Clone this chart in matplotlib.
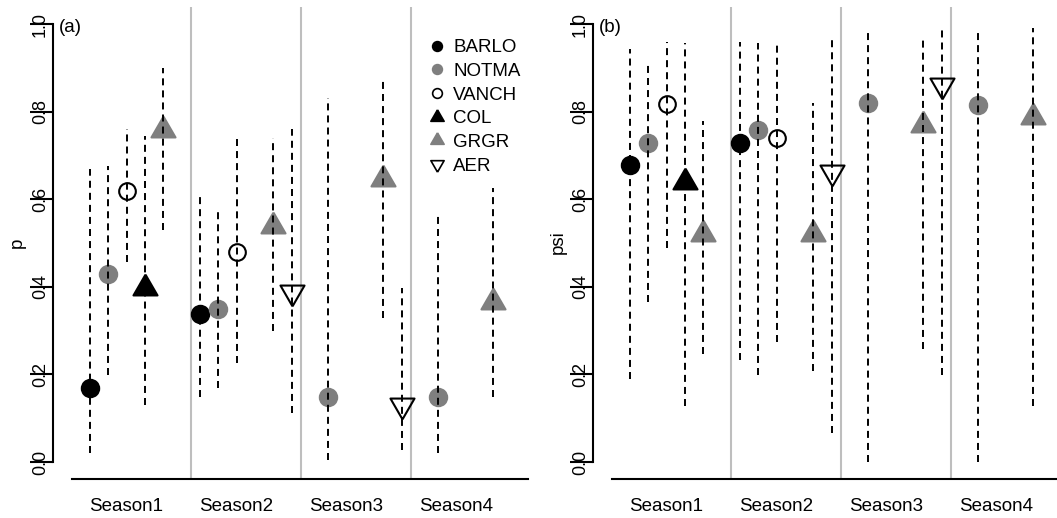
import matplotlib.pyplot as plt
import numpy as np
from matplotlib.lines import Line2D

plt.rcParams['font.family'] = ['Liberation Sans', 'DejaVu Sans']
plt.rcParams['ytick.major.size'] = 16.5
plt.rcParams['ytick.major.width'] = 1.5
plt.rcParams['ytick.direction'] = 'out'

nan = np.nan

seasons = ['Season1', 'Season2', 'Season3', 'Season4']
species = ['BARLO', 'NOTMA', 'VANCH', 'COL', 'GRGR', 'AER']

# detection probability p: estimate and interval per species (rows) and season (cols)
p_est = [[0.170, 0.339, nan, nan],
         [0.429, 0.349, 0.149, 0.149],
         [0.619, 0.479, nan, nan],
         [0.397, nan, nan, nan],
         [0.758, 0.538, 0.647, 0.365],
         [nan, 0.389, 0.130, nan]]
p_lo = [[0.020, 0.149, nan, nan],
        [0.199, 0.168, 0.005, 0.021],
        [0.457, 0.225, nan, nan],
        [0.129, nan, nan, nan],
        [0.530, 0.298, 0.328, 0.148],
        [nan, 0.111, 0.027, nan]]
p_hi = [[0.669, 0.610, nan, nan],
        [0.676, 0.575, 0.830, 0.568],
        [0.760, 0.739, nan, nan],
        [0.744, nan, nan, nan],
        [0.899, 0.739, 0.874, 0.625],
        [nan, 0.760, 0.398, nan]]

# occupancy psi
psi_est = [[0.678, 0.729, nan, nan],
           [0.729, 0.759, 0.819, 0.815],
           [0.817, 0.739, nan, nan],
           [0.639, nan, nan, nan],
           [0.520, 0.520, 0.769, 0.787],
           [nan, 0.662, 0.860, nan]]
psi_lo = [[0.189, 0.234, nan, nan],
          [0.366, 0.199, 0.000, 0.000],
          [0.488, 0.275, nan, nan],
          [0.128, nan, nan, nan],
          [0.247, 0.208, 0.257, 0.128],
          [nan, 0.067, 0.199, nan]]
psi_hi = [[0.944, 0.960, nan, nan],
          [0.914, 0.956, 0.988, 0.990],
          [0.960, 0.960, nan, nan],
          [0.956, nan, nan, nan],
          [0.779, 0.819, 0.970, 0.990],
          [nan, 0.965, 0.990, nan]]

yticks = [0.0, 0.2, 0.4, 0.6, 0.8, 1.0]

# equilateral triangles centred on their centroid (like R's pch 17 / pch 6)
tri_up = [(0, 1), (-0.866, -0.5), (0.866, -0.5), (0, 1)]
tri_down = [(0, -1), (-0.866, 0.5), (0.866, 0.5), (0, -1)]

grey = '#7F7F7F'
# marker, face colour, edge colour, size
styles = [('o', 'black', 'black', 12.5),
          ('o', grey, grey, 12.5),
          ('o', 'none', 'black', 12.0),
          (tri_up, 'black', 'black', 20),
          (tri_up, grey, grey, 20),
          (tri_down, 'none', 'black', 20)]

W, H = 1057, 518
fig = plt.figure(figsize=(W / 100, H / 100), dpi=100)


def add_panel(x0, x1, origin):
    # axes placed in pixels; one season = 110 px wide starting at `origin`
    ax = fig.add_axes([x0 / W, 1 - 479 / H, (x1 - x0) / W, (479 - 7) / H])
    ax.set_xlim((x0 - origin) / 110, (x1 - origin) / 110)
    ax.set_ylim((462 - 479) / 438, (462 - 7) / 438)
    return ax


def draw_panel(ax, est, lo, hi, tag):
    for s in range(1, len(seasons)):
        ax.axvline(s, color='#BEBEBE', lw=1.5, zorder=1)
    for i in range(len(species)):
        mk, fc, ec, ms = styles[i]
        for s in range(len(seasons)):
            if np.isnan(est[i][s]):
                continue
            x = s + (i + 0.5) / 6
            ax.plot(x, est[i][s], marker=mk, ms=ms, mfc=fc, mec=ec,
                    mew=1.5, ls='none', zorder=2)
            ax.plot([x, x], [lo[i][s], hi[i][s]], color='black', lw=1.4,
                    ls=(0, (3.6, 2.6)), zorder=3)

    for side in ['top', 'right']:
        ax.spines[side].set_visible(False)
    ax.spines['left'].set_bounds(0, 1)
    ax.spines['bottom'].set_bounds(-0.079, 4.066)
    ax.spines['left'].set_linewidth(1.5)
    ax.spines['bottom'].set_linewidth(1.5)

    ax.set_yticks(yticks)
    ax.set_yticklabels(['%.1f' % t for t in yticks], rotation=90,
                       va='center', fontsize=13)
    ax.yaxis.set_tick_params(pad=-13.5)
    ax.set_xticks([s + 2.5 / 6 for s in range(len(seasons))])
    ax.set_xticklabels(seasons)
    ax.tick_params(axis='x', length=0, pad=13.5, labelsize=13.5)

    ax.text(0.0126, 0.993, tag, fontsize=13.5, ha='left', va='center',
            transform=ax.get_yaxis_transform())
    return ax


ax_a = add_panel(53, 530, 80.7)
draw_panel(ax_a, p_est, p_lo, p_hi, '(a)')
ax_b = add_panel(593, 1057, 620.7)
draw_panel(ax_b, psi_est, psi_lo, psi_hi, '(b)')

fig.text(17 / W, 1 - 243 / H, 'p', rotation=90, fontsize=13.5,
         ha='center', va='center')
fig.text(558 / W, 1 - 242 / H, 'psi', rotation=90, fontsize=13.5,
         ha='center', va='center')

# small legend markers
handles = []
for i in range(len(species)):
    mk, fc, ec, ms = styles[i]
    small = 7 if mk == 'o' else 11
    handles.append(Line2D([], [], marker=mk, ms=small, mfc=fc, mec=ec,
                          mew=1.2, ls='none'))
ax_a.legend(handles, species, loc='upper left', frameon=False,
            bbox_to_anchor=(429 / W, 1 - 39 / H), bbox_transform=fig.transFigure,
            fontsize=13.5, handlelength=0.8, handletextpad=0.485,
            labelspacing=0.35, borderpad=0, borderaxespad=0)

fig.savefig('out.png', dpi=100)
